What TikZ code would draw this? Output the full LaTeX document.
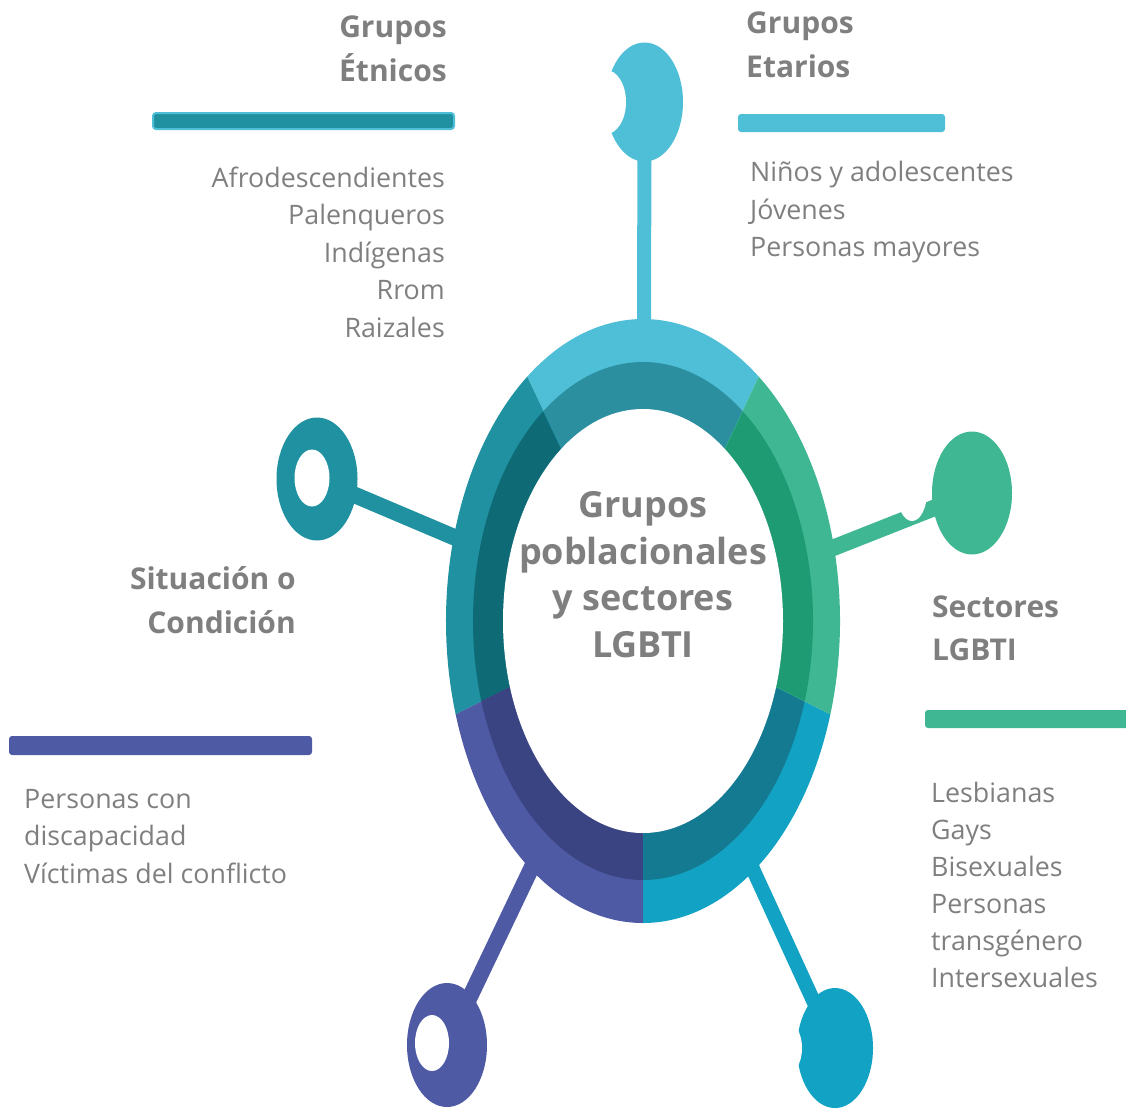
\documentclass[tikz,border=0pt]{standalone}
\usepackage{fontspec}
\setmainfont{Open Sans}
\usetikzlibrary{shapes.geometric,calc}
\definecolor{cTop}{HTML}{4FBFD8}
\definecolor{cTopD}{HTML}{2B8FA0}
\definecolor{cLeft}{HTML}{1F91A0}
\definecolor{cLeftD}{HTML}{0E6B76}
\definecolor{cPur}{HTML}{4F5AA5}
\definecolor{cPurD}{HTML}{3B4483}
\definecolor{cCyan}{HTML}{12A2C4}
\definecolor{cCyanD}{HTML}{147A92}
\definecolor{cGreen}{HTML}{40B793}
\definecolor{cGreenD}{HTML}{1E9B73}
\definecolor{txt}{HTML}{7F7F7F}
\begin{document}
\begin{tikzpicture}[x=1pt,y=1pt,
  head/.style={ellipse, inner sep=0pt, outer sep=0pt, fill=#1},
  hole/.style={ellipse, fill=white, inner sep=0pt, outer sep=0pt},
  stem/.style={line width=#1, shorten <=-5pt},
  hdr/.style={font=\fontsize{30}{36}\selectfont\bfseries, text=txt, inner sep=0pt},
  body/.style={font=\fontsize{26.8}{32}\selectfont, text=txt, inner sep=0pt},
  ctr/.style={font=\fontsize{36}{40}\selectfont\bfseries, text=txt, inner sep=0pt, anchor=base},
  bar/.style={rounded corners=3pt, fill=#1},
]
\useasboundingbox (0,0) rectangle (1126,-1109);

% heads
\node[head=cTop, minimum width=77pt, minimum height=119pt] (hTop) at (644.5,-102) {};
\node[head=cLeft, minimum width=81pt, minimum height=123pt] (hLeft) at (317,-479) {};
\node[head=cGreen, minimum width=80pt, minimum height=123pt] (hGreen) at (972,-493) {};
\node[head=cPur, minimum width=80pt, minimum height=124pt] (hPur) at (447,-1045) {};
\node[head=cCyan, minimum width=76pt, minimum height=120pt] (hCyan) at (835,-1048) {};

% ring anchor points
\coordinate (c) at (643,-621);
\coordinate (rTop) at (644,-340);
\coordinate (rLeft) at (475,-546);
\coordinate (rGreen) at (815,-555);
\coordinate (rPur) at (540,-850);
\coordinate (rCyan) at (745,-852);

% stems
\draw[stem=14pt, cTop] (hTop) -- (rTop);
\draw[stem=16.5pt, cLeft] (hLeft) -- (rLeft);
\draw[stem=16.5pt, cGreen] (hGreen) -- (rGreen);
\draw[stem=16pt, cPur] (hPur) -- (rPur);
\draw[stem=14.5pt, cCyan] (hCyan) -- (rCyan);

% holes
\node[hole, minimum width=40pt, minimum height=64pt] (oTop) at (606,-102) {};
\node[hole, minimum width=35pt, minimum height=57pt] (oLeft) at (312,-478) {};
\node[hole, minimum width=30pt, minimum height=58pt] (oGreen) at (912,-492) {};
\node[hole, minimum width=34pt, minimum height=56pt] (oPur) at (432,-1043) {};
\node[hole, minimum width=34pt, minimum height=56pt] (oCyan) at (785,-1048) {};

% ring
\foreach \a/\b/\o/\d in {54/126/cTop/cTopD, 126/198/cLeft/cLeftD, 198/270/cPur/cPurD, 270/342/cCyan/cCyanD, 342/414/cGreen/cGreenD} {
  \fill[\o] (c) -- ($(c)+(\a:197 and 302)$) arc[start angle=\a, end angle=\b, x radius=197, y radius=302] -- cycle;
  \fill[\d] (c) -- ($(c)+(\a:170 and 259)$) arc[start angle=\a, end angle=\b, x radius=170, y radius=259] -- cycle;
}
\fill[white] (c) ellipse[x radius=140, y radius=212];

% center text
\node[ctr] (t1) at (643,-517) {Grupos};
\node[ctr] (t2) at (643,-564) {poblacionales};
\node[ctr] (t3) at (643,-610) {y sectores};
\node[ctr] (t4) at (643,-657) {LGBTI};

% bars
\draw[bar=cLeft, draw=cTop, line width=2pt] (153,-113) rectangle (454,-129);
\fill[bar=cTop] (738,-114) rectangle (945,-132);
\fill[bar=cPur] (9,-736) rectangle (312,-755);
\fill[bar=cGreen] (925,-710) rectangle (1135,-728);

% headers
\node[hdr, anchor=base east] (e1) at (447,-37) {Grupos};
\node[hdr, anchor=base east] (e2) at (447,-81) {Étnicos};
\node[hdr, anchor=base west] (a1) at (746,-33) {Grupos};
\node[hdr, anchor=base west] (a2) at (746,-77) {Etarios};
\node[hdr, anchor=base east] (s1) at (296,-589) {Situación o};
\node[hdr, anchor=base east] (s2) at (296,-633) {Condición};
\node[hdr, anchor=base west] (l1) at (932,-617) {Sectores};
\node[hdr, anchor=base west] (l2) at (932,-660) {LGBTI};

% lists
\node[body, anchor=base east] (e3) at (445,-187) {Afrodescendientes};
\node[body, anchor=base east] (e4) at (445,-224.5) {Palenqueros};
\node[body, anchor=base east] (e5) at (445,-262) {Indígenas};
\node[body, anchor=base east] (e6) at (445,-299.5) {Rrom};
\node[body, anchor=base east] (e7) at (445,-337) {Raizales};

\node[body, anchor=base west] (a3) at (750,-181) {Niños y adolescentes};
\node[body, anchor=base west] (a4) at (750,-219) {Jóvenes};
\node[body, anchor=base west] (a5) at (750,-256) {Personas mayores};

\node[body, anchor=base west] (s3) at (24,-808) {Personas con};
\node[body, anchor=base west] (s4) at (24,-845.5) {discapacidad};
\node[body, anchor=base west] (s5) at (24,-883) {Víctimas del conflicto};

\node[body, anchor=base west] (l3) at (931,-802) {Lesbianas};
\node[body, anchor=base west] (l4) at (931,-839) {Gays};
\node[body, anchor=base west] (l5) at (931,-876) {Bisexuales};
\node[body, anchor=base west] (l6) at (931,-913) {Personas};
\node[body, anchor=base west] (l7) at (931,-950) {transgénero};
\node[body, anchor=base west] (l8) at (931,-987) {Intersexuales};
\end{tikzpicture}
\end{document}
